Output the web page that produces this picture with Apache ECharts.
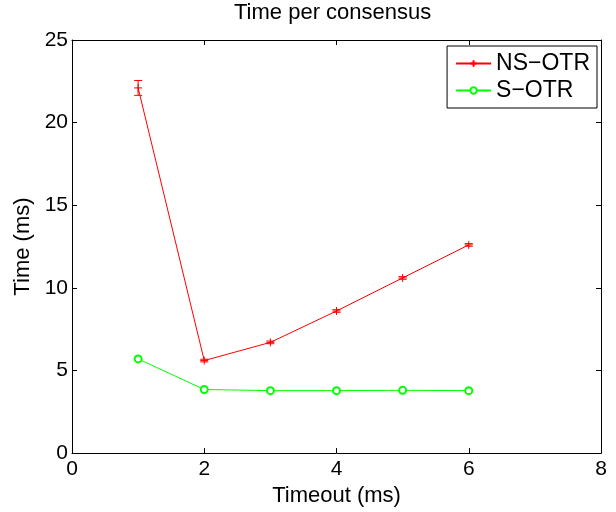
<!DOCTYPE html>
<html>
<head>
<meta charset="utf-8">
<script src="https://cdn.jsdelivr.net/npm/echarts@6/dist/echarts.min.js"></script>
<style>
  html, body { margin: 0; padding: 0; background: #fff; }
  #container { width: 616px; height: 512px; }
</style>
</head>
<body>
<div id="container"></div>
<script>
  var timeouts = [1, 2, 3, 4, 5, 6];
  var nsOtr = [22.1, 5.6, 6.7, 8.6, 10.6, 12.6];
  var nsOtrErr = [0.45, 0.08, 0.08, 0.08, 0.08, 0.08];
  var sOtr = [5.7, 3.85, 3.78, 3.78, 3.8, 3.78];
  var xTicks = [0, 2, 4, 6, 8];
  var yTicks = [0, 5, 10, 15, 20, 25];

  var font = 'Liberation Sans, Arial, Helvetica, sans-serif';
  var dom = document.getElementById('container');
  var myChart = echarts.init(dom);

  var errData = timeouts.map(function (t, i) {
    return [t, nsOtr[i] - nsOtrErr[i], nsOtr[i] + nsOtrErr[i]];
  });

  function axisCommon(showLabel, margin) {
    return {
      axisLine: { show: true, onZero: false, lineStyle: { color: '#000', width: 1 } },
      axisTick: { show: true, inside: true, length: 5, lineStyle: { color: '#000' } },
      splitLine: { show: false },
      axisLabel: {
        show: showLabel,
        color: '#000',
        fontFamily: font,
        fontSize: 21,
        margin: margin
      }
    };
  }

  var xBottom = Object.assign(axisCommon(true, 6), {
    type: 'value', position: 'bottom', min: 0, max: 8, interval: 2,
    name: 'Timeout (ms)', nameLocation: 'middle', nameGap: 26,
    nameTextStyle: { color: '#000', fontFamily: font, fontSize: 22 }
  });
  var xTop = Object.assign(axisCommon(false, 6), {
    type: 'value', position: 'top', min: 0, max: 8, interval: 2
  });
  var yLeft = Object.assign(axisCommon(true, 4), {
    type: 'value', position: 'left', min: 0, max: 25, interval: 5,
    name: 'Time (ms)', nameLocation: 'middle', nameGap: 36,
    nameTextStyle: { color: '#000', fontFamily: font, fontSize: 22 }
  });
  var yRight = Object.assign(axisCommon(false, 4), {
    type: 'value', position: 'right', min: 0, max: 25, interval: 5
  });

  var option = {
    animation: false,
    backgroundColor: '#fff',
    title: {
      text: 'Time per consensus',
      left: 234,
      top: 2,
      padding: 0,
      textStyle: { color: '#000', fontFamily: font, fontSize: 22, fontWeight: 'normal' }
    },
    grid: { left: 72, right: 15, top: 40, bottom: 56 },
    legend: {
      orient: 'vertical',
      right: 19,
      top: 46,
      backgroundColor: '#fff',
      borderColor: '#000',
      borderWidth: 1,
      borderRadius: 0,
      padding: [6, 7, 6, 8],
      itemGap: 4,
      itemWidth: 35,
      itemHeight: 8,
      textStyle: { color: '#000', fontFamily: font, fontSize: 23 },
      data: ['NS\u2212OTR', 'S\u2212OTR']
    },
    xAxis: [xBottom, xTop],
    yAxis: [yLeft, yRight],
    series: [
      {
        name: 'NS\u2212OTR',
        type: 'line',
        data: timeouts.map(function (t, i) { return [t, nsOtr[i]]; }),
        symbol: 'path://M0,-1L0,1M-1,0L1,0',
        symbolSize: 8,
        lineStyle: { color: '#ff0000', width: 1 },
        itemStyle: { color: '#ff0000', borderColor: '#ff0000', borderWidth: 1 },
        z: 3
      },
      {
        name: 'errbars',
        type: 'custom',
        data: errData,
        renderItem: function (params, api) {
          var x = api.value(0);
          var lo = api.coord([x, api.value(1)]);
          var hi = api.coord([x, api.value(2)]);
          var w = 4;
          var st = { stroke: '#ff0000', lineWidth: 1 };
          return {
            type: 'group',
            children: [
              { type: 'line', shape: { x1: lo[0], y1: lo[1], x2: hi[0], y2: hi[1] }, style: st },
              { type: 'line', shape: { x1: lo[0] - w, y1: lo[1], x2: lo[0] + w, y2: lo[1] }, style: st },
              { type: 'line', shape: { x1: hi[0] - w, y1: hi[1], x2: hi[0] + w, y2: hi[1] }, style: st }
            ]
          };
        },
        z: 4
      },
      {
        name: 'S\u2212OTR',
        type: 'line',
        data: timeouts.map(function (t, i) { return [t, sOtr[i]]; }),
        symbol: 'emptyCircle',
        symbolSize: 7,
        lineStyle: { color: '#00ff00', width: 1 },
        itemStyle: { color: '#00ff00', borderColor: '#00ff00', borderWidth: 1 },
        z: 3
      }
    ]
  };
  myChart.setOption(option, true);
</script>
</body>
</html>
